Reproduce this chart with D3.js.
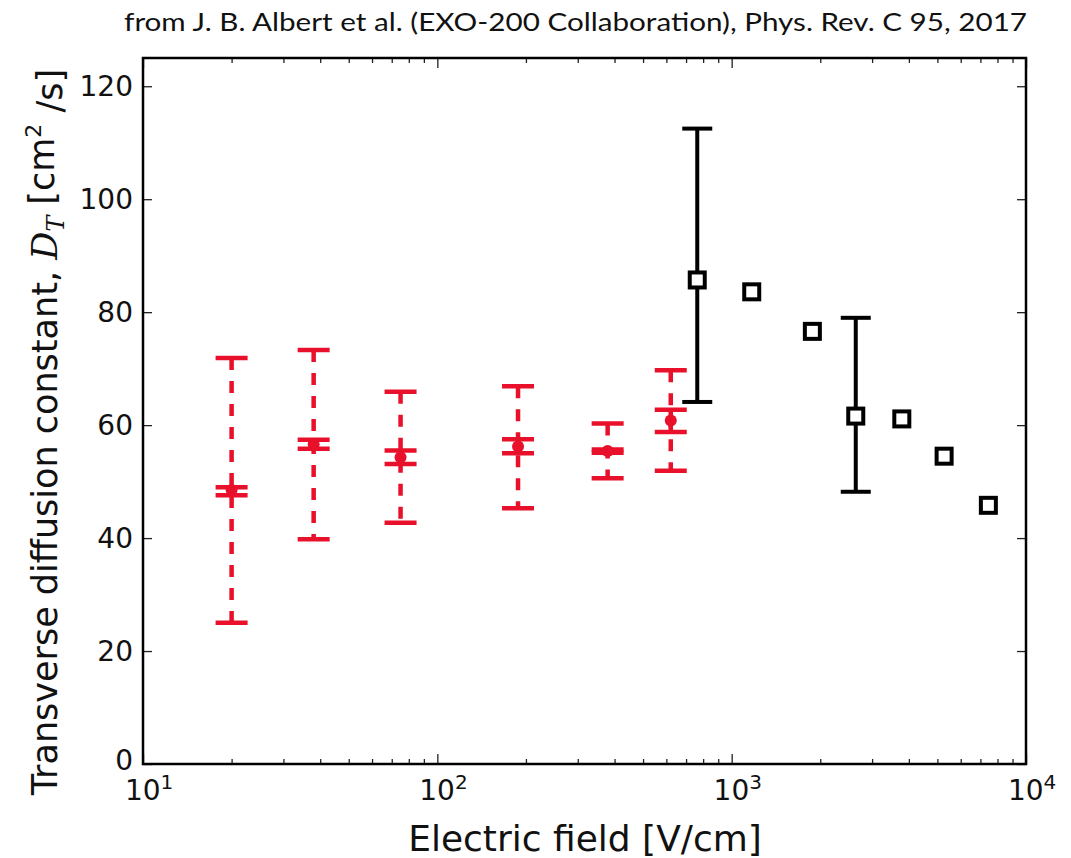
<!DOCTYPE html>
<html>
<head>
<meta charset="utf-8">
<script src="https://cdn.jsdelivr.net/npm/d3@7"></script>
<style>
  body { margin: 0; background: #fff; }
  svg { display: block; }
  .tick text { font-family: "DejaVu Sans", sans-serif; }
</style>
</head>
<body>
<svg></svg>
<script>
// red points: field [V/cm], D_T, outer (dashed) and inner error bar ends
let redField = [20, 38, 75, 188, 379, 621];
let redDT = [48.5, 56.6, 54.3, 56.2, 55.4, 60.8];
let redSysLow = [25.0, 39.8, 42.7, 45.3, 50.6, 51.9];
let redSysHigh = [71.9, 73.3, 65.9, 66.9, 60.3, 69.7];
let redStatLow = [47.6, 55.8, 53.1, 55.0, 55.1, 58.8];
let redStatHigh = [49.0, 57.4, 55.5, 57.5, 55.7, 62.7];

// black squares
let blackField = [764, 1170, 1880, 2640, 3785, 5270, 7450];
let blackDT = [85.7, 83.6, 76.6, 61.6, 61.1, 54.5, 45.8];
let blackLow = [64.1, null, null, 48.2, null, null, null];
let blackHigh = [112.5, null, null, 79.0, null, null, null];

let xTicks = [10, 100, 1000, 10000];
let xTickExp = ["1", "2", "3", "4"];
let yTicks = [0, 20, 40, 60, 80, 100, 120];

let width = 1071;
let height = 858;
let plotLeft = 143, plotRight = 1026, plotTop = 58, plotBottom = 764;

let red = "#e8102a";

let svg = d3.select("svg").attr("width", width).attr("height", height);

let xScale = d3.scaleLog().domain([10, 10000]).range([plotLeft, plotRight]);
let yScale = d3.scaleLinear().domain([0, 125]).range([plotBottom, plotTop]);

// minor ticks on the log axis
let minorTicks = [];
xTicks.slice(0, 3).forEach(d => {
    for (let k = 2; k <= 9; k++) minorTicks.push(d * k);
});

let drawAxes = () => {
    // bottom axis
    let xAxis = d3.axisBottom(xScale).tickValues(xTicks).tickSizeInner(-10).tickSizeOuter(0).tickPadding(16).tickFormat(() => "10");
    let gx = svg.append("g").attr("transform", "translate(0," + plotBottom + ")").call(xAxis);
    gx.selectAll("text").attr("font-size", 28).attr("fill", "#111")
        .append("tspan").attr("dy", "-0.55em").attr("font-size", 20).text((d, i) => xTickExp[i]);
    gx.selectAll(".tick text").attr("dx", "0.2em");

    let xMinor = d3.axisBottom(xScale).tickValues(minorTicks).tickSizeInner(-5).tickSizeOuter(0).tickFormat("");
    svg.append("g").attr("transform", "translate(0," + plotBottom + ")").call(xMinor);

    // top axis ticks
    svg.append("g").attr("transform", "translate(0," + plotTop + ")")
        .call(d3.axisTop(xScale).tickValues(xTicks).tickSizeInner(-10).tickSizeOuter(0).tickFormat(""));
    svg.append("g").attr("transform", "translate(0," + plotTop + ")")
        .call(d3.axisTop(xScale).tickValues(minorTicks).tickSizeInner(-5).tickSizeOuter(0).tickFormat(""));

    // left axis
    let yAxis = d3.axisLeft(yScale).tickValues(yTicks).tickSizeInner(-9).tickSizeOuter(0).tickPadding(10);
    let gy = svg.append("g").attr("transform", "translate(" + plotLeft + ",0)").call(yAxis);
    gy.selectAll("text").attr("font-size", 28).attr("fill", "#111");
    // the "0" sits a little higher so it clears the 10^1 label
    gy.selectAll(".tick text").filter(d => d === 0).attr("dy", "0.2em");

    // right axis ticks
    svg.append("g").attr("transform", "translate(" + plotRight + ",0)")
        .call(d3.axisRight(yScale).tickValues(yTicks).tickSizeInner(-9).tickSizeOuter(0).tickFormat(""));

    svg.selectAll(".domain").remove();
    svg.selectAll(".tick line").attr("stroke", "#222").attr("stroke-width", 1.3);

    // frame
    svg.append("rect")
        .attr("x", plotLeft).attr("y", plotTop)
        .attr("width", plotRight - plotLeft).attr("height", plotBottom - plotTop)
        .attr("fill", "none").attr("stroke", "#000").attr("stroke-width", 2.5);
};

let drawRed = () => {
    let g = svg.append("g");
    let capW = 16;
    redField.forEach((f, i) => {
        let x = xScale(f);
        g.append("line")
            .attr("x1", x).attr("x2", x)
            .attr("y1", yScale(redSysHigh[i])).attr("y2", yScale(redSysLow[i]))
            .attr("stroke", red).attr("stroke-width", 4.5)
            .attr("stroke-dasharray", "12,11");
        g.append("line")
            .attr("x1", x).attr("x2", x)
            .attr("y1", yScale(redStatHigh[i])).attr("y2", yScale(redStatLow[i]))
            .attr("stroke", red).attr("stroke-width", 4.5);
        [redSysHigh[i], redSysLow[i], redStatHigh[i], redStatLow[i]].forEach(v => {
            g.append("line")
                .attr("x1", x - capW).attr("x2", x + capW)
                .attr("y1", yScale(v)).attr("y2", yScale(v))
                .attr("stroke", red).attr("stroke-width", 4.5);
        });
    });
    g.selectAll("circle")
        .data(redField)
        .enter()
        .append("circle")
        .attr("cx", d => xScale(d))
        .attr("cy", (d, i) => yScale(redDT[i]))
        .attr("r", 6)
        .attr("fill", red);
};

let drawBlack = () => {
    let g = svg.append("g");
    let capW = 15;
    blackField.forEach((f, i) => {
        if (blackLow[i] === null) return;
        let x = xScale(f);
        g.append("line")
            .attr("x1", x).attr("x2", x)
            .attr("y1", yScale(blackHigh[i])).attr("y2", yScale(blackLow[i]))
            .attr("stroke", "#000").attr("stroke-width", 4);
        [blackHigh[i], blackLow[i]].forEach(v => {
            g.append("line")
                .attr("x1", x - capW).attr("x2", x + capW)
                .attr("y1", yScale(v)).attr("y2", yScale(v))
                .attr("stroke", "#000").attr("stroke-width", 4);
        });
    });
    let s = 15;
    g.selectAll("rect")
        .data(blackField)
        .enter()
        .append("rect")
        .attr("x", d => xScale(d) - s / 2)
        .attr("y", (d, i) => yScale(blackDT[i]) - s / 2)
        .attr("width", s).attr("height", s)
        .attr("fill", "#fff").attr("stroke", "#000").attr("stroke-width", 4);
};

let drawLabels = () => {
    svg.append("text")
        .attr("x", 585).attr("y", 851)
        .attr("text-anchor", "middle")
        .attr("font-family", "DejaVu Sans, sans-serif").attr("font-size", 36).attr("fill", "#111")
        .text("Electric field [V/cm]");

    let yl = svg.append("text")
        .attr("transform", "translate(57,432) rotate(-90)")
        .attr("text-anchor", "middle")
        .attr("font-family", "DejaVu Sans, sans-serif").attr("font-size", 35).attr("fill", "#111");
    yl.append("tspan").text("Transverse diffusion constant, ");
    yl.append("tspan").attr("font-family", "DejaVu Serif, serif").attr("font-style", "italic").text("D");
    yl.append("tspan").attr("font-family", "DejaVu Serif, serif").attr("font-style", "italic").attr("font-size", 24).attr("dy", "0.3em").text("T");
    yl.append("tspan").attr("dy", "-0.3em").text(" [cm");
    yl.append("tspan").attr("font-size", 22).attr("dy", "-0.6em").text("2");
    yl.append("tspan").attr("dy", "0.6em").text(" /s]");

    svg.append("text")
        .attr("x", 1027).attr("y", 31)
        .attr("text-anchor", "end")
        .attr("font-family", "Lato, sans-serif").attr("font-size", 25).attr("fill", "#111")
        .attr("textLength", 903).attr("lengthAdjust", "spacingAndGlyphs")
        .text("from J. B. Albert et al. (EXO-200 Collaboration), Phys. Rev. C 95, 2017");
};

drawAxes();
drawRed();
drawBlack();
drawLabels();
</script>
</body>
</html>
